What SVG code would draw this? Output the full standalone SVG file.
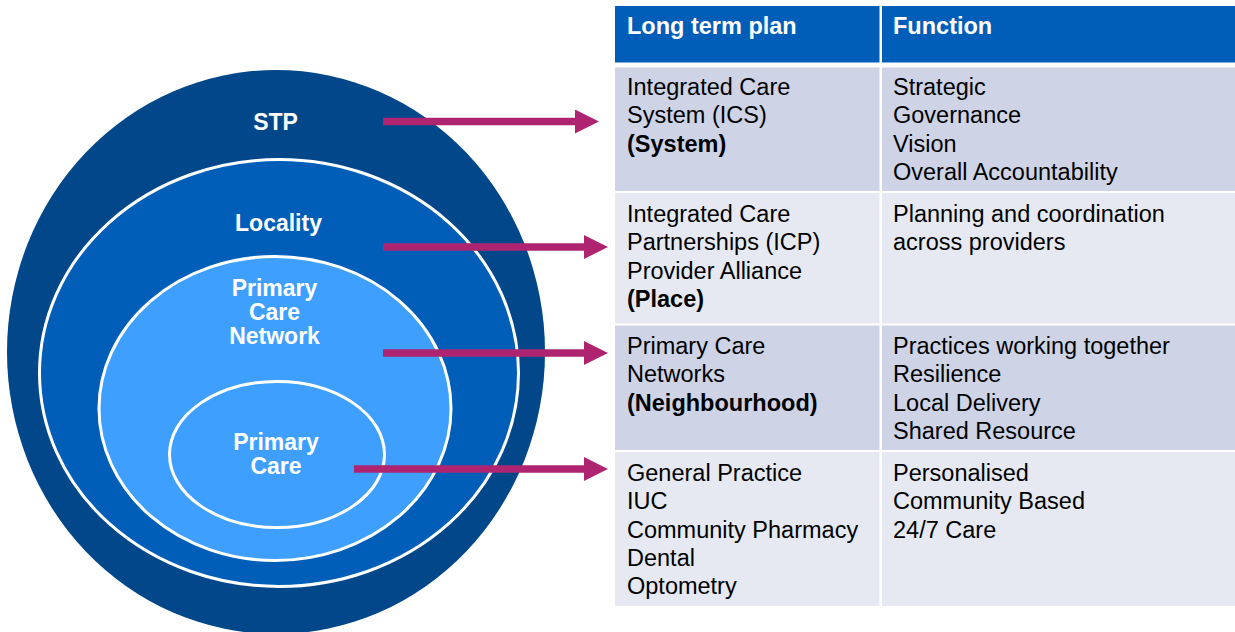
<svg xmlns="http://www.w3.org/2000/svg" width="1235" height="632" viewBox="0 0 1235 632">
<defs>
<style>
.lbl{font-family:"Liberation Sans",Arial,sans-serif;font-weight:bold;font-size:23px;fill:#ffffff;text-anchor:middle}
.hd{font-family:"Liberation Sans",Arial,sans-serif;font-weight:bold;font-size:23.5px;fill:#ffffff}
.tx{font-family:"Liberation Sans",Arial,sans-serif;font-size:23.5px;fill:#000000}
.b{font-weight:bold}
.ring{stroke:#ffffff;stroke-width:3}
.conn{stroke:#AE2471;stroke-width:7.5;fill:none}
.dark{fill:#CED4E6}
.light{fill:#E6E9F2}
</style>
<marker id="ah" markerUnits="userSpaceOnUse" markerWidth="24" markerHeight="24" viewBox="0 0 22 22" refX="0" refY="11" orient="auto">
<path d="M0,0 L22,11 L0,22 Z" fill="#AE2471"/>
</marker>
</defs>
<rect width="1235" height="632" fill="#ffffff"/>
<g id="stp">
<ellipse cx="276" cy="352" rx="269" ry="282" fill="#02478A"/>
<text class="lbl" x="275.5" y="130">STP</text>
</g>
<g id="locality">
<ellipse cx="279" cy="373" rx="239.5" ry="213.5" fill="#005EB8" class="ring"/>
<text class="lbl" x="278.5" y="231">Locality</text>
</g>
<g id="pcn">
<ellipse cx="275" cy="408.5" rx="176" ry="152" fill="#3E9FFF" class="ring"/>
<text class="lbl" x="274.5" y="296">Primary</text>
<text class="lbl" x="274.5" y="320">Care</text>
<text class="lbl" x="274.5" y="344">Network</text>
</g>
<g id="primarycare">
<ellipse cx="277" cy="454.5" rx="107.5" ry="73" fill="#3E9FFF" class="ring"/>
<text class="lbl" x="276" y="449.5">Primary</text>
<text class="lbl" x="276" y="473.5">Care</text>
</g>
<g id="connectors">
<line class="conn" x1="383" y1="121.5" x2="575" y2="121.5" marker-end="url(#ah)"/>
<line class="conn" x1="383" y1="247" x2="584" y2="247" marker-end="url(#ah)"/>
<line class="conn" x1="383" y1="353" x2="584" y2="353" marker-end="url(#ah)"/>
<line class="conn" x1="354" y1="469" x2="584" y2="469" marker-end="url(#ah)"/>
</g>
<g id="table-header">
<rect x="615" y="6" width="264.5" height="56.5" fill="#005EB8"/>
<rect x="882" y="6" width="353" height="56.5" fill="#005EB8"/>
<text class="hd" x="627" y="33.5">Long term plan</text>
<text class="hd" x="893" y="33.5">Function</text>
</g>
<g id="row-system">
<rect class="dark" x="615" y="67.5" width="264.5" height="123.5"/>
<rect class="dark" x="882" y="67.5" width="353" height="123.5"/>
<text class="tx" x="627" y="95">Integrated Care</text>
<text class="tx" x="627" y="123.4">System (ICS)</text>
<text class="tx b" x="627" y="151.8">(System)</text>
<text class="tx" x="893" y="95">Strategic</text>
<text class="tx" x="893" y="123.4">Governance</text>
<text class="tx" x="893" y="151.8">Vision</text>
<text class="tx" x="893" y="180.2">Overall Accountability</text>
</g>
<g id="row-place">
<rect class="light" x="615" y="193" width="264.5" height="130.5"/>
<rect class="light" x="882" y="193" width="353" height="130.5"/>
<text class="tx" x="627" y="221.7">Integrated Care</text>
<text class="tx" x="627" y="250.1">Partnerships (ICP)</text>
<text class="tx" x="627" y="278.5">Provider Alliance</text>
<text class="tx b" x="627" y="306.9">(Place)</text>
<text class="tx" x="893" y="221.7">Planning and coordination</text>
<text class="tx" x="893" y="250.1">across providers</text>
</g>
<g id="row-neighbourhood">
<rect class="dark" x="615" y="325.5" width="264.5" height="124.5"/>
<rect class="dark" x="882" y="325.5" width="353" height="124.5"/>
<text class="tx" x="627" y="354">Primary Care</text>
<text class="tx" x="627" y="382.4">Networks</text>
<text class="tx b" x="627" y="410.8">(Neighbourhood)</text>
<text class="tx" x="893" y="354">Practices working together</text>
<text class="tx" x="893" y="382.4">Resilience</text>
<text class="tx" x="893" y="410.8">Local Delivery</text>
<text class="tx" x="893" y="439.2">Shared Resource</text>
</g>
<g id="row-practice">
<rect class="light" x="615" y="452" width="264.5" height="154"/>
<rect class="light" x="882" y="452" width="353" height="154"/>
<text class="tx" x="627" y="480.7">General Practice</text>
<text class="tx" x="627" y="509.1">IUC</text>
<text class="tx" x="627" y="537.5">Community Pharmacy</text>
<text class="tx" x="627" y="565.9">Dental</text>
<text class="tx" x="627" y="594.3">Optometry</text>
<text class="tx" x="893" y="480.7">Personalised</text>
<text class="tx" x="893" y="509.1">Community Based</text>
<text class="tx" x="893" y="537.5">24/7 Care</text>
</g>
</svg>
